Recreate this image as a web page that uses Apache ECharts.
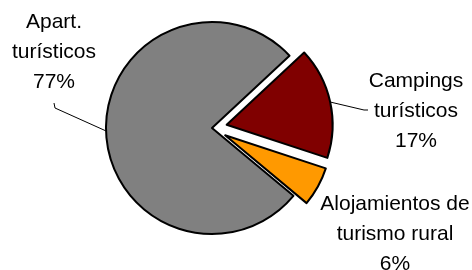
<!DOCTYPE html>
<html>
<head>
<meta charset="utf-8">
<script src="https://cdn.jsdelivr.net/npm/echarts@6/dist/echarts.min.js"></script>
<style>
	html, body { margin: 0; padding: 0; background: #fff; }
	#chart { width: 472px; height: 270px; }
</style>
</head>
<body>
<div id="chart"></div>
<script>
var categories = ['Campings\nturísticos', 'Alojamientos de\nturismo rural', 'Apart.\nturísticos'];
var values = [17, 6, 77];
var colors = ['#800000', '#FF9900', '#808080'];
var exploded = [true, true, false];

var chart = echarts.init(document.getElementById('chart'));

var pieCenter = [212, 128];
var startAngle = 43;
var explodeDist = 15;
// where each label block sits (centre of the text block)
var labelCentre = [[416, 111], [395, 234], [54, 52]];

var total = 0;
for (var i = 0; i < values.length; i++) total += values[i];

/*one series per slice, so the exploded ones can move off centre*/
var series = [];
var before = 0;
for (var k = 0; k < values.length; k++) {
	var mid = (startAngle - 360 * (before + values[k] / 2) / total) * Math.PI / 180;
	before += values[k];
	var off = exploded[k] ? explodeDist : 0;
	var data = [];
	for (var i = 0; i < categories.length; i++) {
		if (i == k) {
			data.push({
				name: categories[i],
				value: values[i],
				itemStyle: { color: colors[i], borderColor: '#000', borderWidth: 2 },
				label: { show: true },
				labelLine: { show: i != 1 }
			});
		} else {
			data.push({
				name: categories[i],
				value: values[i],
				itemStyle: { color: 'rgba(0,0,0,0)', borderWidth: 0 },
				label: { show: false },
				labelLine: { show: false }
			});
		}
	}
	series.push({
		type: 'pie',
		center: [pieCenter[0] + off * Math.cos(mid), pieCenter[1] - off * Math.sin(mid)],
		radius: 106,
		startAngle: startAngle,
		clockwise: true,
		avoidLabelOverlap: false,
		silent: true,
		label: {
			position: 'outside',
			color: '#000',
			fontFamily: 'Liberation Sans, Arial, sans-serif',
			fontSize: 21,
			lineHeight: 30,
			align: 'center',
			formatter: function(p) {
				return p.name + '\n' + p.value + '%';
			}
		},
		labelLine: {
			length: 20,
			length2: 10,
			lineStyle: { color: '#000', width: 1 }
		},
		labelLayout: function(params) {
			var c = labelCentre[params.dataIndex];
			var pts = params.labelLinePoints;
			var res = {
				x: c[0],
				y: c[1],
				align: 'center',
				verticalAlign: 'middle'
			};
			if (pts) {
				var h = params.labelRect.height;
				if (params.dataIndex == 2) {
					res.labelLinePoints = [pts[0], [c[0] + 1, c[1] + h / 2 + 11], [c[0], c[1] + h / 2 + 6]];
				} else if (params.dataIndex == 0) {
					res.labelLinePoints = [pts[0], [c[0] - 52, c[1] - 1], [c[0] - 48, c[1] - 1]];
				}
			}
			return res;
		},
		data: data
	});
}

option = {
	animation: false,
	series: series
};

chart.setOption(option);
</script>
</body>
</html>
